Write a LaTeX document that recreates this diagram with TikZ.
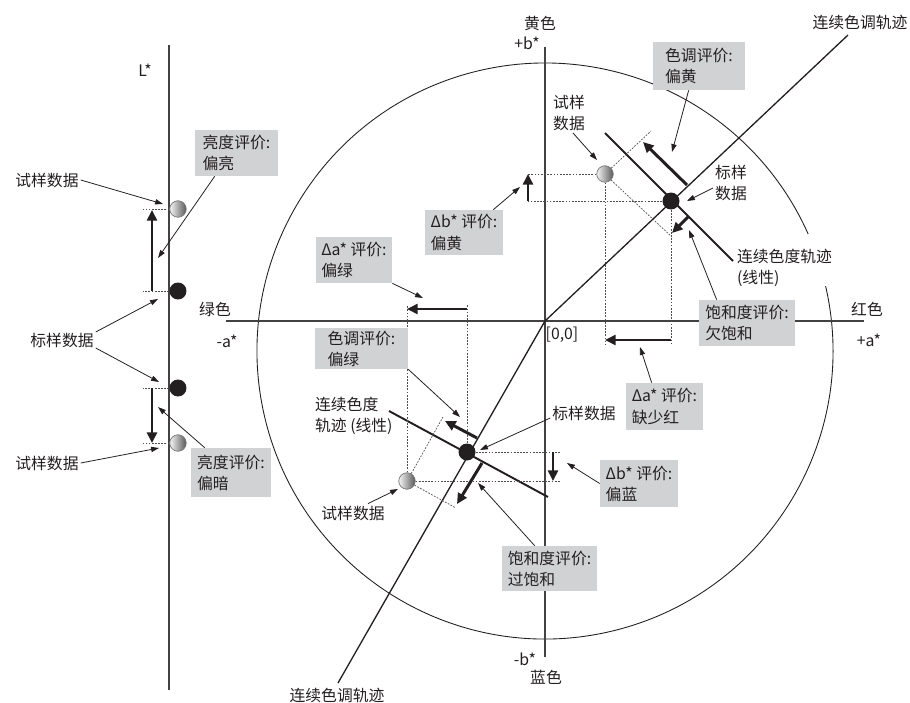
\documentclass[tikz,border=0pt]{standalone}
\usepackage{fontspec}
\usetikzlibrary{arrows.meta,calc}
\newfontfamily\cjk{Noto Sans CJK SC}
\definecolor{boxgray}{RGB}{209,210,212}
\definecolor{inkgray}{RGB}{35,31,32}

\begin{document}
\begin{tikzpicture}[x=0.02cm, y=-0.02cm,
    every node/.style={font=\cjk\fontsize{9}{12}\selectfont, text=inkgray, inner sep=1pt},
    axisline/.style={line width=0.8pt, draw=inkgray!85},
    hueline/.style={line width=0.75pt, draw=inkgray},
    chromaline/.style={line width=1.1pt, draw=inkgray},
    guide/.style={line width=0.4pt, draw=inkgray!80, dash pattern=on 1pt off 0.8pt},
    callout/.style={-{Triangle[length=4.5pt,width=3pt]}, line width=0.45pt, draw=inkgray},
    deltaarrow/.style={-{Triangle[length=6pt,width=5.6pt]}, line width=1.7pt, draw=inkgray},
    evalbox/.style={fill=boxgray, align=left, inner sep=0pt},
    stdpt/.style={circle, fill=inkgray, minimum size=0.34cm, inner sep=0pt},
    smppt/.style={circle, draw=black!55, line width=0.4pt, left color=gray!8, right color=black!65,
                  minimum size=0.33cm, inner sep=0pt}]
  \useasboundingbox (0,0) rectangle (910,703);

  % a*b* plane
  \draw[line width=0.5pt, draw=inkgray] (545,351) ++(-13:288) arc[start angle=-13, end angle=336, radius=288];
  \draw[axisline] (169,45) -- (169,690);
  \draw[axisline] (545,47) -- (545,657);
  \draw[axisline] (226,321) -- (864,321);
  \coordinate (O) at (545,321);
  \coordinate (hueEndU) at (848,35);
  \coordinate (hueEndD) at (338,683);
  \draw[hueline] (O) -- (hueEndU);
  \draw[hueline] (O) -- (hueEndD);
  \draw[chromaline] (605,133) -- (733,261);
  \draw[chromaline] (389,411) -- (548,497);

  % data points
  \node[smppt] (smpL1) at (178,209) {};
  \node[stdpt] (stdL1) at (178,291) {};
  \node[stdpt] (stdL2) at (178,388) {};
  \node[smppt] (smpL2) at (178,443) {};
  \node[smppt] (smpU) at (605,174) {};
  \node[stdpt] (stdU) at (671,201) {};
  \node[stdpt] (stdD) at (467,452) {};
  \node[smppt] (smpD) at (407,481) {};

  % L* differences
  \coordinate (dL) at (152,0);
  \foreach \p in {smpL1,stdL1,stdL2,smpL2}
    \draw[guide] (\p.west) -- ++(-26,0);
  \draw[deltaarrow] (dL |- stdL1) -- ($(dL |- smpL1)+(0,1)$);
  \draw[deltaarrow] (dL |- stdL2) -- (dL |- smpL2);

  % upper right: yellow side
  \coordinate (dbU) at (528,0);
  \coordinate (daU) at (0,340);
  \coordinate (gEndU) at (0,345);
  \coordinate (gHueU) at (651,131);
  \coordinate (gSatU) at (672,237);
  \draw[guide] (smpU.west) -- (dbU |- smpU);
  \draw[guide] (stdU.west) -- (dbU |- stdU);
  \draw[guide] (smpU.south) -- (smpU |- gEndU);
  \draw[guide] (stdU.south) -- (stdU |- gEndU);
  \draw[guide] (smpU.43) -- (gHueU);
  \draw[guide] (smpU.-45) -- (gSatU);
  \draw[deltaarrow] (dbU |- stdU) -- (dbU |- smpU);
  \draw[deltaarrow] (stdU |- daU) -- (smpU |- daU);
  \draw[deltaarrow] (687,185) -- (643,142);
  \draw[deltaarrow] (688,217) -- (672,233);

  % lower left: green/blue side
  \coordinate (dbD) at (553,0);
  \coordinate (daD) at (0,309);
  \coordinate (gTopD) at (0,305);
  \coordinate (gEndD) at (560,0);
  \coordinate (gHueD) at (443,417);
  \coordinate (gSatD) at (456,508);
  \draw[guide] (smpD.north) -- (smpD |- gTopD);
  \draw[guide] (stdD.north) -- (stdD |- gTopD);
  \draw[guide] (stdD.east) -- (gEndD |- stdD);
  \draw[guide] (smpD.east) -- (gEndD |- smpD);
  \draw[guide] (smpD.60) -- (gHueD);
  \draw[guide] (smpD.-29) -- (gSatD);
  \draw[deltaarrow] (stdD |- daD) -- (smpD |- daD);
  \draw[deltaarrow] (dbD |- stdD) -- (dbD |- smpD);
  \draw[deltaarrow] (477,438) -- (445,421);
  \draw[deltaarrow] (482,463) -- (457,504);

  % axis labels
  \node (lblL) at (145,70) {L*};
  \node (lblYellow) at (540,23) {黄色};
  \node (lblPlusB) at (527,43) {+b*};
  \node (lblMinusB) at (525,659) {-b*};
  \node (lblBlue) at (546,677) {蓝色};
  \node (lblGreen) at (215,309) {绿色};
  \node (lblMinusA) at (227,341) {-a*};
  \node (lblRed) at (867,309) {红色};
  \node (lblPlusA) at (869,340) {+a*};
  \node (lblOrigin) at (562,335) {[0,0]};
  \node (lblHueU) at (860,22) {连续色调轨迹};
  \node (lblHueD) at (337,695) {连续色调轨迹};
  \node[anchor=west, align=left] (lblChromaU) at (735,268) {连续色度轨迹\\(线性)};
  \node[anchor=west, align=left] (lblChromaD) at (313,416) {连续色度\\轨迹 (线性)};

  % data labels
  \node (sampTop) at (47,180) {试样数据};
  \node (stdLeft) at (62,340) {标样数据};
  \node (sampBot) at (47,463) {试样数据};
  \node[align=left] (smpLblU) at (569,113) {试样\\数据};
  \node[align=left] (stdLblU) at (731,183) {标样\\数据};
  \node (stdLblD) at (584,413) {标样数据};
  \node (smpLblD) at (353,513) {试样数据};

  % evaluation boxes
  \node[evalbox, minimum width=1.66cm, minimum height=0.92cm] (boxLightUp) at (236.5,153) {亮度评价:\\偏亮};
  \node[evalbox, minimum width=1.60cm, minimum height=0.98cm] (boxLightDn) at (231,472.5) {亮度评价:\\偏暗};
  \node[evalbox, minimum width=1.84cm, minimum height=0.96cm] (boxHueY) at (699,66) {色调评价:\\偏黄};
  \node[evalbox, minimum width=1.56cm, minimum height=0.90cm] (boxDbY) at (464,232.5) {Δb* 评价:\\偏黄};
  \node[evalbox, minimum width=1.52cm, minimum height=0.92cm] (boxDaG) at (354,260) {Δa* 评价:\\偏绿};
  \node[evalbox, minimum width=1.86cm, minimum height=0.82cm] (boxHueG) at (361.5,348.5) {色调评价:\\偏绿};
  \node[evalbox, minimum width=1.92cm, minimum height=0.92cm] (boxSatU) at (747,323) {饱和度评价:\\欠饱和};
  \node[evalbox, minimum width=1.54cm, minimum height=0.94cm] (boxDaR) at (664.5,406.5) {Δa* 评价:\\缺少红};
  \node[evalbox, minimum width=1.56cm, minimum height=0.94cm] (boxDbB) at (639,483.5) {Δb* 评价:\\偏蓝};
  \node[evalbox, minimum width=1.90cm, minimum height=0.90cm] (boxSatO) at (549.5,568.5) {饱和度评价:\\过饱和};

  % callout tips
  \coordinate (tLU1) at (163,204);
  \coordinate (tLU2) at (158,258);
  \coordinate (tLS1) at (158,299);
  \coordinate (tLS2) at (159,382);
  \coordinate (tLD1) at (159,448);
  \coordinate (tLD2) at (158,407);
  \coordinate (tHY) at (672,152);
  \coordinate (tSU) at (597,160);
  \coordinate (tStU) at (687,201);
  \coordinate (tSatU) at (689,230);
  \coordinate (tDaR) at (640,347);
  \coordinate (tDbY) at (520,187);
  \coordinate (tDaG) at (423,298);
  \coordinate (tHG) at (460,417);
  \coordinate (tStD) at (480,450);
  \coordinate (tDbB) at (567,463);
  \coordinate (tSatO) at (478,483);
  \coordinate (tSD) at (398,489);

  % callouts
  \draw[callout] (sampTop.east) -- (tLU1);
  \draw[callout] ($(boxLightUp.south west)+(20,0)$) -- (tLU2);
  \draw[callout] ($(stdLeft.east)+(0,-8)$) -- (tLS1);
  \draw[callout] ($(stdLeft.east)+(0,8)$) -- (tLS2);
  \draw[callout] (sampBot.east) -- (tLD1);
  \draw[callout] ($(boxLightDn.north west)+(14,0)$) -- (tLD2);
  \draw[callout] ($(boxHueY.south west)+(36,0)$) -- (tHY);
  \draw[callout] ($(smpLblU.south)+(4,0)$) -- (tSU);
  \draw[callout] ($(stdLblU.west)+(0,5)$) -- (tStU);
  \draw[callout] ($(boxSatU.north west)+(18,0)$) -- (tSatU);
  \draw[callout] ($(boxDaR.north west)+(26,0)$) -- (tDaR);
  \draw[callout] ($(boxDbY.north east)+(-10,0)$) -- (tDbY);
  \draw[callout] (boxDaG.south east) -- (tDaG);
  \draw[callout] (boxHueG.south east) -- (tHG);
  \draw[callout] ($(stdLblD.west)+(0,5)$) -- (tStD);
  \draw[callout] (boxDbB.west) -- (tDbB);
  \draw[callout] ($(boxSatO.north west)+(33,0)$) -- (tSatO);
  \draw[callout] ($(smpLblD.north)+(15,0)$) -- (tSD);
\end{tikzpicture}
\end{document}
